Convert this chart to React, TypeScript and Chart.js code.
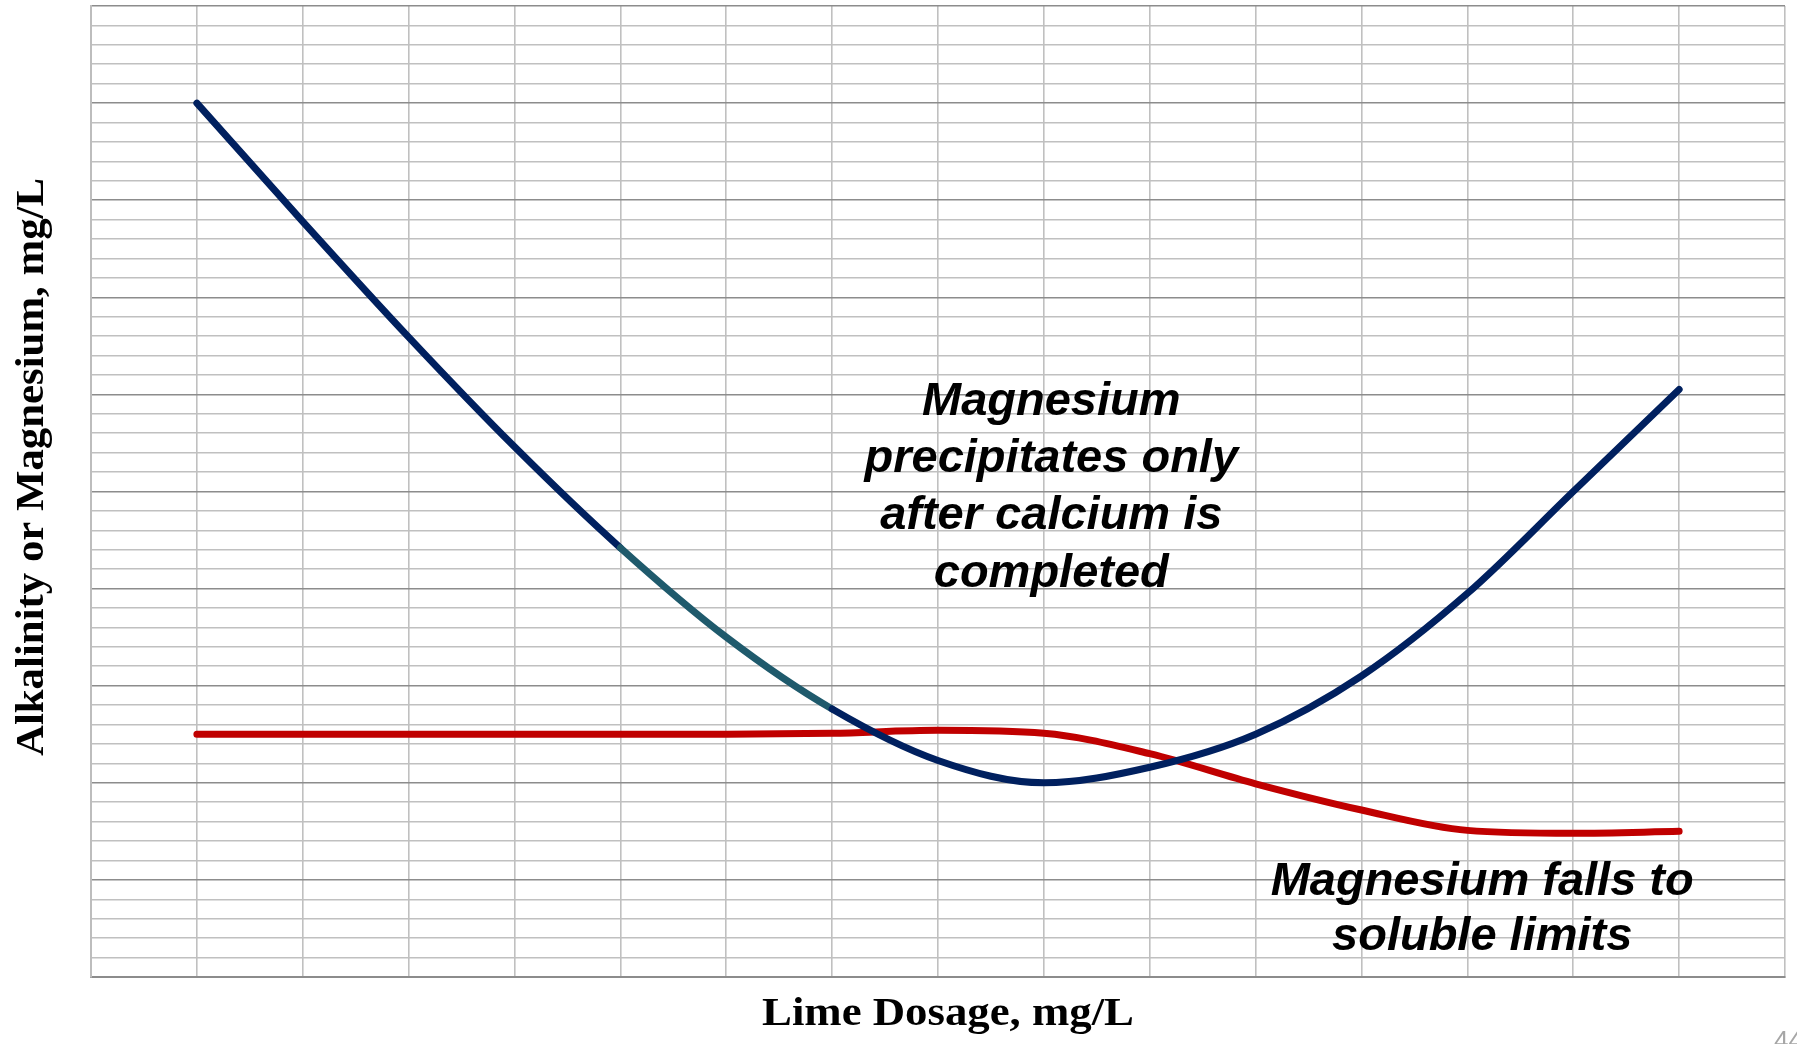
import React, { useEffect, useRef } from "react";
import { Chart, registerables } from "chart.js";

Chart.register(...registerables);

// Lime dosage positions (grid columns)
const doses = [1, 2, 3, 4, 5, 6, 7, 8, 9, 10, 11, 12, 13, 14, 15];
// Alkalinity curve (navy / teal)
const alkalinity = [90, 77.8, 65.9, 54.6, 44.2, 35.0, 27.6, 22.3, 20.0, 21.6, 25.0, 31.0, 39.5, 50.0, 60.5];
// Magnesium curve (red)
const magnesium = [25, 25, 25, 25, 25, 25, 25.1, 25.4, 25.1, 23.0, 19.9, 17.2, 15.1, 14.8, 15.0];

const xTitle = "Lime Dosage, mg/L";
const yTitle = "Alkalinity or Magnesium, mg/L";
const note1 = ["Magnesium", "precipitates only", "after calcium is", "completed"];
const note2 = ["Magnesium falls to", "soluble limits"];
const pageNumber = "44";

const NAVY = "#00205f";
const TEAL = "#1f5a6c";
const RED = "#c00000";

const textPlugin = {
  id: "texts",
  afterDraw(chart: any) {
    const { ctx, scales } = chart;
    const x = scales.x;
    const y = scales.y;
    ctx.save();
    ctx.fillStyle = "#000";
    ctx.textAlign = "center";
    ctx.textBaseline = "alphabetic";
    ctx.font = 'italic bold 47px "Liberation Sans", Arial, sans-serif';
    const n1x = x.getPixelForValue(9.07);
    const n1y = y.getPixelForValue(57.9);
    note1.forEach((t, i) => ctx.fillText(t, n1x, n1y + i * 57.3));
    const n2x = x.getPixelForValue(13.14);
    const n2y = y.getPixelForValue(8.45);
    note2.forEach((t, i) => ctx.fillText(t, n2x, n2y + i * 55));

    // x axis title
    ctx.font = 'bold 40px "Liberation Serif", "Times New Roman", serif';
    let w = ctx.measureText(xTitle).width;
    ctx.save();
    ctx.translate((x.left + x.right) / 2 + 10, 1025);
    ctx.scale(372 / w, 1);
    ctx.fillText(xTitle, 0, 0);
    ctx.restore();

    // y axis title
    ctx.font = 'bold 39px "Liberation Serif", "Times New Roman", serif';
    w = ctx.measureText(yTitle).width;
    ctx.save();
    ctx.translate(43, 467);
    ctx.rotate(-Math.PI / 2);
    ctx.scale(578 / w, 1);
    ctx.fillText(yTitle, 0, 0);
    ctx.restore();

    // page number
    ctx.fillStyle = "#a6a6a6";
    ctx.textAlign = "left";
    ctx.textBaseline = "top";
    ctx.font = '26px "Liberation Sans", Arial, sans-serif';
    ctx.fillText(pageNumber, 1774, 1029);
    ctx.restore();
  },
};

export default function App() {
  const ref = useRef<HTMLCanvasElement | null>(null);
  useEffect(() => {
    if (!ref.current) return;
    const chart = new Chart(ref.current, {
      type: "line",
      data: {
        datasets: [
          {
            label: "Alkalinity",
            data: doses.map((d, i) => ({ x: d, y: alkalinity[i] })),
            borderColor: NAVY,
            borderWidth: 7,
            pointRadius: 0,
            cubicInterpolationMode: "monotone",
            borderCapStyle: "round",
            borderJoinStyle: "round",
            fill: false,
            segment: {
              borderColor: (c: any) =>
                c.p0.parsed.x >= 5 && c.p1.parsed.x <= 7 ? TEAL : NAVY,
            },
          },
          {
            label: "Magnesium",
            data: doses.map((d, i) => ({ x: d, y: magnesium[i] })),
            borderColor: RED,
            borderWidth: 7,
            pointRadius: 0,
            cubicInterpolationMode: "monotone",
            borderCapStyle: "round",
            borderJoinStyle: "round",
            fill: false,
          },
        ],
      },
      options: {
        responsive: false,
        animation: false,
        layout: { padding: { left: 91, top: 6, right: 12, bottom: 67 } },
        plugins: { legend: { display: false }, tooltip: { enabled: false } },
        scales: {
          x: {
            type: "linear",
            min: 0,
            max: 16,
            ticks: { display: false, stepSize: 1 },
            grid: { color: "#c0c0c0", lineWidth: 1.6, drawTicks: false },
            border: { display: true, color: "#8c8c8c", width: 2 },
          },
          y: {
            type: "linear",
            min: 0,
            max: 100,
            ticks: { display: false, stepSize: 2 },
            grid: {
              color: (c: any) => (Math.round(c.tick.value) % 10 === 0 ? "#8c8c8c" : "#c0c0c0"),
              lineWidth: 1.6,
              drawTicks: false,
            },
            border: { display: true, color: "#bdbdbd", width: 2 },
          },
        },
      },
      plugins: [textPlugin],
    } as any);
    return () => chart.destroy();
  }, []);
  return (
    <div style={{ position: "fixed", left: 0, top: 0, width: 1797, height: 1044, background: "#fff" }}>
      <canvas ref={ref} width={1797} height={1044} style={{ display: "block" }} />
    </div>
  );
}
